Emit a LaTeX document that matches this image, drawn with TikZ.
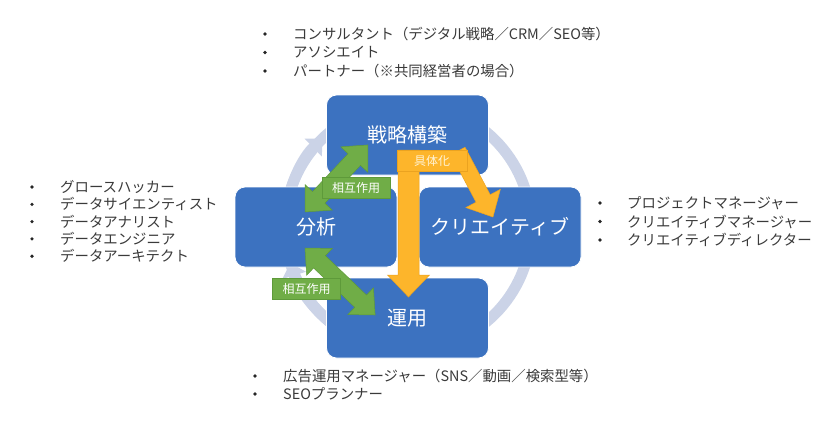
\documentclass[tikz,border=0pt]{standalone}
\usepackage{fontspec}
\newfontfamily\jp{Noto Sans CJK JP}
\usetikzlibrary{arrows.meta}
\definecolor{boxblue}{HTML}{3C72C0}
\definecolor{ringc}{HTML}{CBD3E7}
\definecolor{grn}{HTML}{70AD47}
\definecolor{grnd}{HTML}{5E9A3A}
\definecolor{org}{HTML}{FDB52B}
\definecolor{orgd}{HTML}{EBA320}
\definecolor{orgtxt}{HTML}{FFF4D8}
\definecolor{txt}{HTML}{3A3A3A}
\tikzset{
  stagebox/.style={draw=white, line width=0.8pt, fill=boxblue, rounded corners=10pt,
    minimum width=162pt, minimum height=80pt, inner sep=0pt, text=white,
    font=\jp\fontsize{20}{24}\selectfont},
  tagbox/.style={fill=grn, draw=grnd, line width=0.6pt, text=white, inner sep=0pt,
    minimum width=68pt, minimum height=21pt, font=\jp\fontsize{12}{14}\selectfont},
  concbox/.style={fill=org, draw=orgd, line width=0.6pt, text=orgtxt, inner sep=0pt,
    minimum width=70pt, minimum height=21pt, font=\jp\fontsize{12}{14}\selectfont},
  ringline/.style={draw=ringc, line width=11pt},
  greenarr/.style={fill=grn, draw=grnd, line width=0.5pt},
  orangearr/.style={fill=org, draw=orgd, line width=0.5pt},
  listtext/.style={anchor=west, inner sep=0pt, text=txt, font=\jp\fontsize{14.4}{16}\selectfont},
  bulletdot/.style={circle, fill=black!85, inner sep=0pt, minimum size=3.6pt},
  pics/dblarr/.style args={#1/#2/#3/#4}{code={
    \path[pic actions] (0,0) -- (#3,#2) -- (#3,#4) -- (#1-#3,#4) -- (#1-#3,#2) -- (#1,0)
      -- (#1-#3,-#2) -- (#1-#3,-#4) -- (#3,-#4) -- (#3,-#2) -- cycle;}},
  pics/sglarr/.style args={#1/#2/#3/#4}{code={
    \path[pic actions] (0,#4) -- (#1-#3,#4) -- (#1-#3,#2) -- (#1,0) -- (#1-#3,-#2)
      -- (#1-#3,-#4) -- (0,-#4) -- cycle;}},
}
\begin{document}
\begin{tikzpicture}[x=1pt,y=1pt]
\useasboundingbox (0,0) rectangle (820,-423);
\fill[white] (0,0) rectangle (820,-423);

% ring
\coordinate (ctr) at (408,-227);
\draw[ringline] (ctr) circle (123);
\draw[ringline, -{Triangle[width=24pt,length=13pt]}] (ctr) ++(172:123) arc (172:134:123);
\draw[ringline, -{Triangle[width=24pt,length=13pt]}] (ctr) ++(232:123) arc (232:197:123);

% stage boxes
\node[stagebox] (strat) at (407.5,-135) {戦略構築};
\node[stagebox] (anal) at (316,-227) {分析};
\node[stagebox] (crea) at (500,-227) {クリエイティブ};
\node[stagebox] (ops) at (407.5,-318) {運用};

% green interaction arrows
\coordinate (gu1) at (305,-212);
\coordinate (gu2) at (368,-145);
\pic[greenarr, rotate=46.8] at (gu1) {dblarr={92/18.5/20/8.5}};
\coordinate (gl1) at (305,-248);
\coordinate (gl2) at (375,-315);
\pic[greenarr, rotate=-43.7] at (gl1) {dblarr={97/18.5/20/8.5}};
\node[tagbox] (tag1) at (356,-187.5) {相互作用};
\node[tagbox] (tag2) at (306.5,-289) {相互作用};

% orange arrows
\coordinate (ov) at (408.5,-150);
\pic[orangearr, rotate=-90] at (ov) {sglarr={147/21/22/10.5}};
\coordinate (od) at (458,-151);
\pic[orangearr, rotate=-62.1] at (od) {sglarr={74.7/19.5/21/8}};
\node[concbox] (conc) at (432,-160.5) {具体化};

% lists
\foreach \t [count=\i] in {コンサルタント（デジタル戦略／CRM／SEO等）, アソシエイト, パートナー（※共同経営者の場合）}{
  \node[bulletdot] (tb\i) at (265,-34-18.5*\i+18.5) {};
  \node[listtext] (tt\i) at (293,-34-18.5*\i+18.5) {\t};
}
\foreach \t [count=\i] in {グロースハッカー, データサイエンティスト, データアナリスト, データエンジニア, データアーキテクト}{
  \node[bulletdot] (lb\i) at (32,-187-17.3*\i+17.3) {};
  \node[listtext] (lt\i) at (60,-187-17.3*\i+17.3) {\t};
}
\foreach \t [count=\i] in {プロジェクトマネージャー, クリエイティブマネージャー, クリエイティブディレクター}{
  \node[bulletdot] (rb\i) at (600,-203-18.5*\i+18.5) {};
  \node[listtext] (rt\i) at (627,-203-18.5*\i+18.5) {\t};
}
\foreach \t [count=\i] in {広告運用マネージャー（SNS／動画／検索型等）, SEOプランナー}{
  \node[bulletdot] (bb\i) at (255,-376-18*\i+18) {};
  \node[listtext] (bt\i) at (283,-376-18*\i+18) {\t};
}
\end{tikzpicture}
\end{document}
